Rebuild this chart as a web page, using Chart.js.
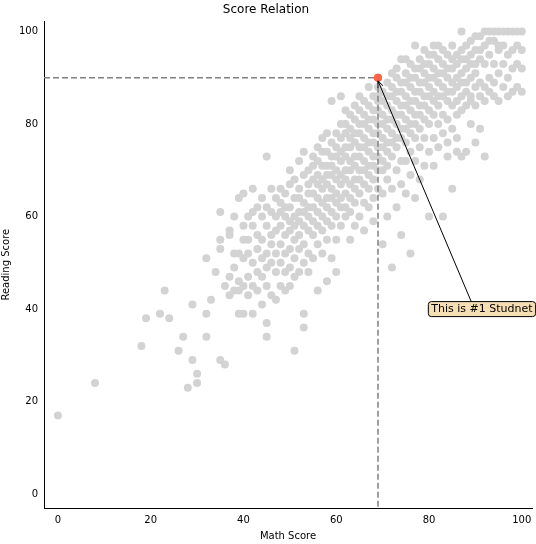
<!DOCTYPE html>
<html><head><meta charset="utf-8">
<script src="https://cdn.jsdelivr.net/npm/chart.js@4"></script>
<style>html,body{margin:0;padding:0;background:#fff}#wrap{width:536px;height:544px}</style>
</head><body><div id="wrap"><canvas id="c" width="536" height="544"></canvas></div>
<script>
const mathValues=[0,8,18,19,22,23,24,26,27,28,29,30,32,33,34,35,36,37,38,39,40,41,42,43,44,45,46,47,48,49,50,51,52,53,54,55,56,57,58,59,60,61,62,63,64,65,66,67,68,69,70,71,72,73,74,75,76,77,78,79,80,81,82,83,84,85,86,87,88,89,90,91,92,93,94,95,96,97,98,99,100];
const readingByMath=[[17],[24],[32],[38],[39],[44],[38],[31],[34],[23],[29,41],[24,26],[34,39,51],[42],[48],[29,53,55,61],[28,45],[43,56,57,47],[49,60,44,52],[39,44,64,52,46],[51,65,55,45,58,39],[52,47,60,55,43],[66,58,50,61,45,39],[53,62,48,56,44],[55,60,47,51,64,41],[73,34,37,52,58,62,45,49],[56,61,50,66,43,54],[60,52,64,48,57,42],[58,63,54,66,50,45,61],[52,60,56,65,48,62,44],[57,62,53,67,49,70,45,59],[31,55,60,64,51,68,47,58],[61,56,66,53,72,48,59,64],[36,39,58,63,69,54,50,61,74],[60,65,57,70,52,67,62,48],[62,68,56,73,59,65,51,71],[64,58,69,75,61,54,67,72,44],[66,60,71,63,77,57,68,52,74],[64,69,59,74,67,62,78,55,71,46],[85,66,61,71,76,64,58,69,73,51],[68,63,73,78,65,60,70,75,55,48],[86,67,72,62,77,69,74,64,80,58],[70,65,75,80,68,62,73,78,60,83],[72,67,77,82,70,64,75,61,79,55],[71,76,66,81,73,68,84,63,78,58],[73,68,78,83,70,75,65,80,60,86],[75,70,80,85,72,67,77,63,82,57],[74,79,69,84,76,71,81,66,62,88],[76,81,71,86,73,78,68,83,59,64],[78,73,83,88,75,70,80,85,66,86],[77,82,72,87,75,80,70,85,54,65],[79,74,84,89,76,81,68,86,60,71],[81,76,86,91,78,73,83,49,66,88],[80,85,75,90,82,77,87,70,62,92],[82,77,87,56,84,79,89,72,67,94],[84,79,89,81,86,76,91,72,65,94],[83,88,78,93,52,85,80,74,90,69],[85,80,90,97,82,87,77,92,72,64],[87,82,92,84,89,79,94,75,68],[86,91,81,89,84,93,77,71,96],[88,83,93,60,86,90,80,74,95],[90,85,95,97,87,82,92,77,71],[89,84,94,86,91,80,75,97],[91,86,60,88,93,82,78,96],[90,95,85,92,87,81,76,73],[92,87,66,94,89,84,79,97],[93,88,95,85,90,82,77,74],[94,89,100,91,86,96,83,73],[92,97,87,94,84,89,74],[95,90,98,86,93,80,85],[96,91,88,99,84,93,76],[99,94,89,96,86,79],[97,93,88,100,85,73],[100,95,90,98,87],[98,93,100,89,86],[100,96,91,85,97],[97,93,88,100],[100,95,90,86],[100,96,92,87],[100,97,93,88],[100,96,92,87]];
const tickValues=[0,20,40,60,80,100];
const topStudent={math:69,reading:90};
const noteText="This is #1 Studnet";
const notePos={math:80.5,reading:40};

const pts=[];
mathValues.forEach((m,i)=>readingByMath[i].forEach(r=>pts.push({x:m,y:r})));

const overlay={id:'overlay',afterDatasetsDraw(ch){
  const c=ch.ctx,xs=ch.scales.x,ys=ch.scales.y,a=ch.chartArea;
  const px=xs.getPixelForValue(topStudent.math),py=ys.getPixelForValue(topStudent.reading);
  c.save();c.strokeStyle='#808080';c.lineWidth=1.5;c.setLineDash([6,3]);
  c.beginPath();c.moveTo(a.left,py);c.lineTo(px,py);c.moveTo(px,py);c.lineTo(px,a.bottom);c.stroke();
  c.setLineDash([]);
  c.fillStyle='#ff6347';c.beginPath();c.arc(px,py,4,0,Math.PI*2);c.fill();
  c.font='11px "DejaVu Sans"';c.textBaseline='middle';
  const tx=xs.getPixelForValue(notePos.math),ty=ys.getPixelForValue(notePos.reading);
  const w=c.measureText(noteText).width;
  const bx=tx-3,by=ty-7.5,bw=w+6,bh=15;
  const sx=bx+bw*0.4,sy=by;
  c.strokeStyle='#000';c.lineWidth=1;
  c.beginPath();c.moveTo(sx,sy);c.lineTo(px,py+3);c.stroke();
  const ang=Math.atan2(py+3-sy,px-sx);
  c.beginPath();c.moveTo(px,py+3);c.lineTo(px-7*Math.cos(ang-0.4),py+3-7*Math.sin(ang-0.4));
  c.moveTo(px,py+3);c.lineTo(px-7*Math.cos(ang+0.4),py+3-7*Math.sin(ang+0.4));c.stroke();
  c.fillStyle='#f5deb3';c.beginPath();c.roundRect(bx,by,bw,bh,3);c.fill();c.stroke();
  c.fillStyle='#000';c.fillText(noteText,tx,ty+0.5);
  c.restore();
}};

const setTicks=s=>{s.ticks=tickValues.map(v=>({value:v}));};
new Chart(document.getElementById('c'),{
  type:'scatter',
  data:{datasets:[
    {data:pts,backgroundColor:'#d3d3d3',borderWidth:0,pointRadius:4,pointHoverRadius:4},
    {data:[{x:topStudent.math,y:topStudent.reading}],backgroundColor:'#ff6347',borderWidth:0,pointRadius:4}
  ]},
  options:{responsive:false,animation:false,events:[],
    layout:{padding:{left:0,right:4,top:0,bottom:0}},
    plugins:{legend:{display:false},tooltip:{enabled:false},
      title:{display:true,text:'Score Relation',color:'#000',font:{family:'DejaVu Sans',size:12,weight:'normal'},padding:{top:3,bottom:4}}},
    scales:{
      x:{type:'linear',min:-3,max:102.2,afterBuildTicks:setTicks,
        grid:{display:false,drawTicks:true,tickLength:4,tickColor:'#000'},border:{color:'#000'},
        ticks:{color:'#000',font:{family:'DejaVu Sans',size:10},padding:2,maxRotation:0},
        title:{display:true,text:'Math Score',color:'#000',font:{family:'DejaVu Sans',size:10},padding:{top:2,bottom:2}}},
      y:{type:'linear',min:-3,max:102.2,afterBuildTicks:setTicks,
        afterFit:s=>{s.width=44;},
        grid:{display:false,drawTicks:true,tickLength:4,tickColor:'#000'},border:{color:'#000'},
        ticks:{color:'#000',font:{family:'DejaVu Sans',size:10},padding:2},
        title:{display:true,text:'Reading Score',color:'#000',font:{family:'DejaVu Sans',size:10},padding:{top:0,bottom:2}}}
    }},
  plugins:[overlay]
});
</script></body></html>
